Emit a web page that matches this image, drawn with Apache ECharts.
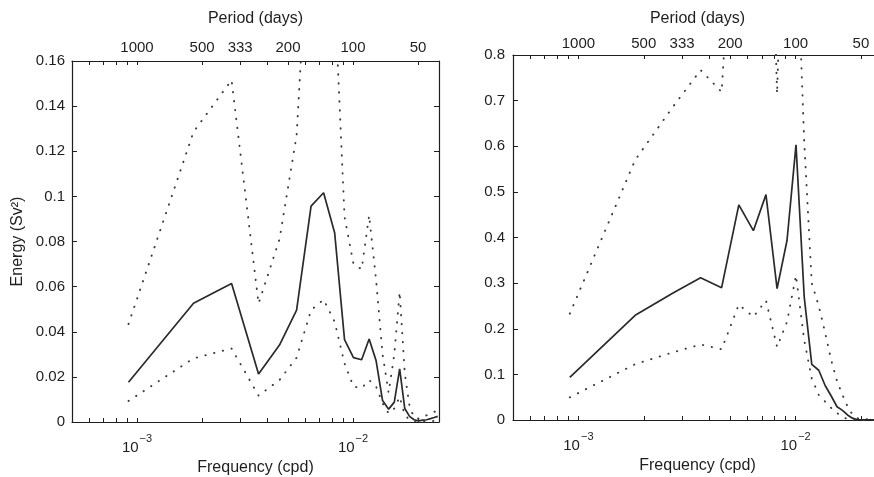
<!DOCTYPE html>
<html>
<head>
<meta charset="utf-8">
<script src="https://cdn.jsdelivr.net/npm/echarts@6.0.0/dist/echarts.min.js"></script>
<style>
html,body{margin:0;padding:0;background:#ffffff;}
#chart{width:874px;height:477px;}
</style>
</head>
<body>
<div id="chart"></div>
<script>
// Frequencies of the spectral estimates (cpd)
const freq = [0.000913, 0.001826, 0.002740, 0.003653, 0.004566, 0.005479, 0.006393, 0.007306, 0.008219, 0.009132,
              0.010046, 0.010959, 0.011872, 0.012785, 0.013699, 0.014612, 0.015525, 0.016438, 0.017352, 0.018265,
              0.019178, 0.020091, 0.021005, 0.021918, 0.022831, 0.023744, 0.024658];

// Left panel (Energy, Sv^2)
const energyLeft = [0.0176, 0.0526, 0.0614, 0.0213, 0.0341, 0.0496, 0.0957, 0.1016, 0.0839, 0.0365,
                    0.0285, 0.0276, 0.0368, 0.0272, 0.0095, 0.0057, 0.0088, 0.0235, 0.0060, 0.0025,
                    0.0010, 0.0005, 0.0008, 0.0010, 0.0015, 0.0020, 0.0025];
const upperLeft  = [0.0434, 0.1286, 0.1515, 0.0525, 0.0810, 0.1270, 0.2400, 0.2700, 0.1900, 0.0910,
                    0.0700, 0.0677, 0.0916, 0.0630, 0.0300, 0.0130, 0.0300, 0.0577, 0.0216, 0.0068,
                    0.0020, 0.0015, 0.0020, 0.0030, 0.0040, 0.0045, 0.0050];
const lowerLeft  = [0.0093, 0.0282, 0.0326, 0.0117, 0.0186, 0.0285, 0.0496, 0.0543, 0.0444, 0.0260,
                    0.0157, 0.0150, 0.0186, 0.0157, 0.0083, 0.0038, 0.0060, 0.0112, 0.0030, 0.0010,
                    0.0003, 0.0002, 0.0002, 0.0003, 0.0004, 0.0005, 0.0006];

// Right panel (Energy, Sv^2)
const energyRight = [0.0933, 0.2295, 0.2790, 0.3120, 0.2900, 0.4715, 0.4150, 0.4940, 0.2880, 0.3935,
                     0.6030, 0.2700, 0.1220, 0.1090, 0.0750, 0.0520, 0.0290, 0.0210, 0.0110, 0.0040,
                     0.0010, 0.0005, 0.0005, 0.0005, 0.0005, 0.0005, 0.0005];
const upperRight  = [0.2330, 0.5700, 0.6880, 0.7670, 0.7190, 1.3300, 1.4000, 1.6000, 0.7150, 1.4000,
                     1.1000, 0.6100, 0.3000, 0.2500, 0.1900, 0.1300, 0.0850, 0.0550, 0.0300, 0.0120,
                     0.0040, 0.0020, 0.0015, 0.0015, 0.0015, 0.0015, 0.0015];
const lowerRight  = [0.0496, 0.1224, 0.1486, 0.1654, 0.1550, 0.2530, 0.2260, 0.2620, 0.1600, 0.2150,
                     0.3170, 0.1750, 0.0910, 0.0550, 0.0400, 0.0260, 0.0150, 0.0070, 0.0020, 0.0005,
                     0.0002, 0.0001, 0.0001, 0.0001, 0.0001, 0.0001, 0.0001];

// Axis ticks
const periodTicks = [1000, 500, 333, 200, 100, 50];          // days (top axis labels)
const freqLabelTicks = [0.001, 0.01];                         // cpd (bottom axis labels)
const freqTickMarks = [0.0006, 0.0007, 0.0008, 0.0009, 0.001, 0.002, 0.003, 0.004, 0.005,
                       0.006, 0.007, 0.008, 0.009, 0.01, 0.02];
const freqMin = 0.0005, freqMax = 0.025;

const FONT = "'Liberation Sans', Arial, Helvetica, sans-serif";
const INK = '#1e1e1e';

function pairs(ys) { return freq.map((f, i) => [f, ys[i]]); }

function xBottom(gridIndex, nameGap, labelMargin) {
  return {
    type: 'log', logBase: 10, gridIndex: gridIndex, position: 'bottom',
    min: freqMin, max: freqMax,
    axisLine: { show: true, onZero: false, lineStyle: { color: INK, width: 1.2 } },
    axisTick: { show: true, inside: true, length: 4, customValues: freqTickMarks, lineStyle: { color: INK, width: 1 } },
    axisLabel: {
      customValues: freqLabelTicks, margin: labelMargin, color: INK, fontFamily: FONT, fontSize: 15,
      formatter: function (v) {
        const e = Math.round(Math.log10(v));
        return '{base|10}{sup|' + (e < 0 ? '\u2212' + (-e) : e) + '}';
      },
      rich: {
        base: { fontSize: 15, fontFamily: FONT, color: INK, lineHeight: 16, verticalAlign: 'bottom' },
        sup: { fontSize: 11, fontFamily: FONT, color: INK, lineHeight: 11, padding: [0, 0, 11, 1], verticalAlign: 'bottom' }
      }
    },
    splitLine: { show: false },
    name: 'Frequency (cpd)', nameLocation: 'middle', nameGap: nameGap,
    nameTextStyle: { fontSize: 16, fontFamily: FONT, color: INK }
  };
}

function xTop(gridIndex, nameGap, labelMargin) {
  return {
    type: 'log', logBase: 10, gridIndex: gridIndex, position: 'top',
    min: freqMin, max: freqMax,
    axisLine: { show: true, onZero: false, lineStyle: { color: INK, width: 1.2 } },
    axisTick: { show: true, inside: true, length: 4, customValues: freqTickMarks, lineStyle: { color: INK, width: 1 } },
    axisLabel: {
      customValues: periodTicks.map(p => 1 / p), margin: labelMargin,
      fontSize: 15, fontFamily: FONT, color: INK,
      formatter: function (v) { return String(Math.round(1 / v)); }
    },
    splitLine: { show: false },
    name: 'Period (days)', nameLocation: 'middle', nameGap: nameGap,
    nameTextStyle: { fontSize: 16, fontFamily: FONT, color: INK }
  };
}

function yLeft(gridIndex, max, interval, margin, name) {
  return {
    type: 'value', gridIndex: gridIndex, position: 'left', min: 0, max: max, interval: interval,
    axisLine: { show: true, lineStyle: { color: INK, width: 1.2 } },
    axisTick: { show: true, inside: true, length: 5, lineStyle: { color: INK, width: 1 } },
    axisLabel: { margin: margin, fontSize: 15, fontFamily: FONT, color: INK },
    splitLine: { show: false },
    name: name, nameLocation: 'middle', nameGap: 46, nameRotate: 90,
    nameTextStyle: { fontSize: 16, fontFamily: FONT, color: INK }
  };
}

function yRight(gridIndex, max, interval) {
  return {
    type: 'value', gridIndex: gridIndex, position: 'right', min: 0, max: max, interval: interval,
    axisLine: { show: true, lineStyle: { color: INK, width: 1.2 } },
    axisTick: { show: true, inside: true, length: 5, lineStyle: { color: INK, width: 1 } },
    axisLabel: { show: false },
    splitLine: { show: false }
  };
}

function solid(data, xi, yi) {
  return {
    type: 'line', xAxisIndex: xi, yAxisIndex: yi, data: pairs(data),
    showSymbol: false, symbol: 'none', clip: true, silent: true,
    lineStyle: { color: '#2a2a2a', width: 1.7 }
  };
}
function dotted(data, xi, yi) {
  return {
    type: 'line', xAxisIndex: xi, yAxisIndex: yi, data: pairs(data),
    showSymbol: false, symbol: 'none', clip: true, silent: true,
    lineStyle: { color: '#3c3c3c', width: 1.9, type: [0.4, 8.6], cap: 'round' }
  };
}

const chart = echarts.init(document.getElementById('chart'), null, { renderer: 'canvas' });
chart.setOption({
  animation: false,
  backgroundColor: '#ffffff',
  grid: [
    { left: 72, top: 61, width: 367, height: 361, containLabel: false, outerBoundsMode: 'none' },
    { left: 513, top: 55, width: 369, height: 365, containLabel: false, outerBoundsMode: 'none' }
  ],
  xAxis: [
    xBottom(0, 38, 17),
    xTop(0, 34, 6),
    xBottom(1, 38, 17),
    xTop(1, 28, 4)
  ],
  yAxis: [
    yLeft(0, 0.16, 0.02, 7, 'Energy (Sv\u00B2)'),
    yRight(0, 0.16, 0.02),
    yLeft(1, 0.8, 0.1, 8, ''),
    yRight(1, 0.8, 0.1)
  ],
  series: [
    dotted(upperLeft, 0, 0),
    dotted(lowerLeft, 0, 0),
    solid(energyLeft, 0, 0),
    dotted(upperRight, 2, 2),
    dotted(lowerRight, 2, 2),
    solid(energyRight, 2, 2)
  ]
});
</script>
</body>
</html>
